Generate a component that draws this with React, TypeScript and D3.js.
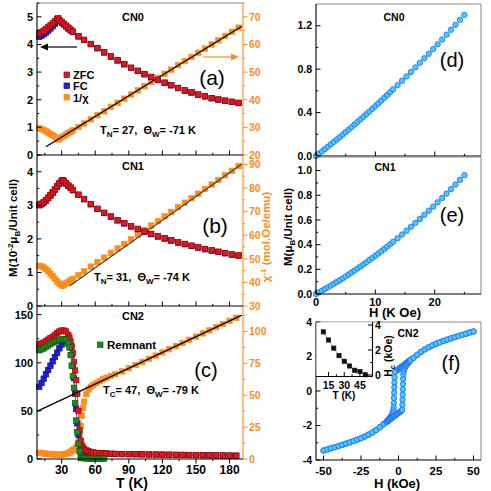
import React from "react"
import * as d3 from "d3"

// ---- CN0 : M(T) and 1/chi ----
const tA = [10,12,14,16,18,20,22,24,26,27,28,30,32,34,36,38,40,45,50,56,62,68,74,80,86,92,98,104,110,116,122,128,134,140,146,152,158,164,170,176,182,188]
const zfcA = [4.40,4.45,4.50,4.56,4.62,4.69,4.76,4.84,4.92,4.95,4.88,4.82,4.75,4.68,4.61,4.54,4.47,4.30,4.17,4.02,3.87,3.72,3.57,3.43,3.29,3.16,3.05,2.93,2.83,2.72,2.62,2.53,2.43,2.34,2.27,2.19,2.13,2.06,2.01,1.97,1.93,1.89]
const fcA = [4.28,4.32,4.37,4.43,4.50,4.58,4.66,4.75,4.85,4.90,4.85,4.79,4.72,4.65,4.58,4.51,4.45,4.29,4.16,4.01,3.86,3.71,3.56,3.42,3.28,3.15,3.04,2.92,2.82,2.71,2.61,2.52,2.42,2.33,2.26,2.18,2.12,2.05,2.00,1.96,1.92,1.88]
const invA = [29.7,29.4,29.0,28.6,28.1,27.6,27.1,26.6,25.9,25.6,25.9,26.4,26.9,27.4,27.9,28.4,28.9,30.1,31.4,32.9,34.4,35.8,37.4,38.9,40.4,41.9,43.4,44.9,46.4,47.9,49.4,50.9,52.5,54.0,55.5,57.0,58.5,60.0,61.5,63.1,64.6,66.1]
const fitA = [[16, 23.0], [191, 66.6]]

// ---- CN1 ----
const tB = [10,12,14,16,18,20,22,24,26,28,30,31,32,34,36,38,40,45,50,56,62,68,74,80,86,92,98,104,110,116,122,128,134,140,146,152,158,164,170,176,182,188]
const zfcB = [3.02,3.05,3.10,3.16,3.23,3.31,3.39,3.48,3.57,3.66,3.73,3.75,3.73,3.66,3.59,3.53,3.46,3.32,3.19,3.04,2.90,2.78,2.67,2.56,2.47,2.38,2.30,2.22,2.15,2.08,2.02,1.96,1.90,1.85,1.80,1.75,1.70,1.66,1.62,1.58,1.54,1.51]
const fcB = [3.00,3.03,3.08,3.14,3.21,3.29,3.37,3.46,3.55,3.64,3.71,3.74,3.72,3.65,3.58,3.52,3.45,3.31,3.18,3.03,2.89,2.77,2.66,2.55,2.46,2.37,2.29,2.21,2.14,2.07,2.01,1.95,1.89,1.84,1.79,1.74,1.69,1.65,1.61,1.57,1.53,1.50]
const invB = [47.0,46.8,46.3,45.6,44.7,43.7,42.6,41.5,40.4,39.5,38.8,38.6,38.9,39.6,40.2,40.9,41.5,43.1,44.7,46.7,48.6,50.5,52.5,54.4,56.3,58.3,60.2,62.2,64.1,66.0,68.0,69.9,71.9,73.8,75.7,77.6,79.6,81.5,83.4,85.4,87.3,89.3]
const fitB = [[37, 38.5], [191, 90.2]]

// ---- CN2 ----
const tC = [10,12,14,16,18,20,22,24,26,28,30,32,34,36,37,38,39,40,41,42,43,44,45,46,47,48,49,50,52,54,56,58,61,64,67,70,74,78,84,90,96,102,108,114,120,126,132,138,144,150,156,162,168,174,180,186]
const zfcC = [119,120,121,122.5,124,125.5,127,129,131,132.5,133.5,133.5,132.5,129,126,122,117,110,101,92,82,68,50,30,19,14,12,10.5,9,8,7.3,6.8,6.4,6.1,5.9,5.7,5.5,5.4,5.2,5.1,5.0,4.9,4.8,4.7,4.6,4.5,4.4,4.3,4.2,4.1,4.0,3.9,3.8,3.7,3.6,3.5]
const fcC = [75,79,83.5,88,92.5,97,101.5,106,110.5,115,119,122.5,124.5,124,121,116,108,97,84,68,52,37,25,16,12,10,9,8.5,7.5,7,6.5,6.1,5.8,5.6,5.5,5.4,5.3,5.2,5.1,5.0,4.9,4.8,4.7,4.6,4.5,4.4,4.3,4.2,4.1,4.0,3.9,3.8,3.7,3.6,3.5,3.4]
const invC = [4.8,4.6,4.4,4.2,4.0,3.8,3.6,3.5,3.4,3.4,3.5,3.7,4.0,4.6,5.0,5.5,6.2,7.0,7.5,7.8,8.5,10,13,18,26,34,40,45,51,54.5,56.5,58,59.5,61,62.5,63.8,65.2,66.6,68.7,71.2,73.7,76.1,78.6,81.1,83.6,86.1,88.5,91.0,93.5,96.0,98.5,100.9,103.4,105.9,108.4,110.8]
const tRem = [10,12,14,16,18,20,22,24,26,28,30,32,34,36,37,38,39,40,41,42,43,44,45,46,47,48,49,50,52,54,56,58,60,62,64,66,68]
const remC = [113,114,115,116.5,118,119.5,121,122,123,124,124.5,124.5,124,120,116,108,97,86,74,58,40,28,16,8,3,1.5,1,0.8,0.7,0.5,0.5,0.5,0.5,0.5,0.5,0.5,0.5]
const fitC = [[8, 37.3], [191, 112.9]]

// ---- M(H) ----
const hField = [0,0.5,1,1.5,2,2.5,3,3.5,4,4.5,5,5.5,6,6.5,7,7.5,8,8.5,9,9.5,10,10.5,11,11.5,12,12.5,13,13.75,14.5,15.25,16,16.75,17.5,18.25,19,19.75,20.5,21.25,22,22.75,23.5,24.25,25]
const mD = [0,0.021,0.042,0.064,0.086,0.108,0.13,0.152,0.174,0.197,0.22,0.243,0.266,0.29,0.314,0.338,0.362,0.386,0.41,0.435,0.46,0.485,0.51,0.536,0.562,0.588,0.614,0.653,0.693,0.733,0.774,0.816,0.858,0.9,0.942,0.985,1.029,1.073,1.118,1.163,1.208,1.254,1.3]
const mE = [0,0.013,0.027,0.040,0.054,0.068,0.083,0.097,0.112,0.127,0.143,0.158,0.174,0.190,0.207,0.223,0.24,0.257,0.275,0.292,0.31,0.328,0.347,0.365,0.384,0.403,0.423,0.452,0.482,0.513,0.544,0.576,0.608,0.641,0.675,0.708,0.743,0.778,0.814,0.85,0.887,0.925,0.963]

// ---- CN2 hysteresis (kOe) ----
const loopDownH = [50,47.5,45,42.5,40,37.5,35,32.5,30,27.5,25,22.5,20,17.5,15,12.5,10,8,7.5,7,6.5,6,5.5,5,4.5,4,3.5,3,2.5,2,1.5,1,0.5,0,-0.5,-1,-1.5,-2,-2.5,-2.6,-2.7,-2.8,-2.9,-3,-3.1,-3.2,-3.4,-3.8,-4.3,-5,-5.5,-6,-6.5,-7,-7.5,-8,-10,-12.5,-15,-17.5,-20,-22.5,-25,-27.5,-30,-32.5,-35,-37.5,-40,-42.5,-45,-47.5,-50]
const loopDownM = [3.45,3.39,3.32,3.26,3.19,3.12,3.05,2.98,2.9,2.82,2.74,2.64,2.53,2.41,2.27,2.1,1.92,1.8,1.77,1.73,1.7,1.67,1.63,1.6,1.57,1.53,1.5,1.47,1.43,1.4,1.37,1.33,1.3,1.27,1.23,1.2,1.17,1.13,1.1,0.8,0.5,0.2,-0.1,-0.4,-0.7,-0.95,-1.12,-1.25,-1.36,-1.46,-1.52,-1.58,-1.63,-1.68,-1.74,-1.8,-1.92,-2.1,-2.27,-2.41,-2.53,-2.64,-2.74,-2.82,-2.9,-2.98,-3.05,-3.12,-3.19,-3.26,-3.32,-3.39,-3.45]
const loopUpH = [-50,-47.5,-45,-42.5,-40,-37.5,-35,-32.5,-30,-27.5,-25,-22.5,-20,-17.5,-15,-12.5,-10,-8,-7.5,-7,-6.5,-6,-5.5,-5,-4.5,-4,-3.5,-3,-2.5,-2,-1.5,-1,-0.5,0,0.5,1,1.5,2,2.5,2.6,2.7,2.8,2.9,3,3.1,3.2,3.4,3.8,4.3,5,5.5,6,6.5,7,7.5,8,10,12.5,15,17.5,20,22.5,25,27.5,30,32.5,35,37.5,40,42.5,45,47.5,50]
const loopUpM = [-3.45,-3.39,-3.32,-3.26,-3.19,-3.12,-3.05,-2.98,-2.9,-2.82,-2.74,-2.64,-2.53,-2.41,-2.27,-2.1,-1.92,-1.8,-1.77,-1.73,-1.7,-1.67,-1.63,-1.6,-1.57,-1.53,-1.5,-1.47,-1.43,-1.4,-1.37,-1.33,-1.3,-1.27,-1.23,-1.2,-1.17,-1.13,-1.1,-0.8,-0.5,-0.2,0.1,0.4,0.7,0.95,1.12,1.25,1.36,1.46,1.52,1.58,1.63,1.68,1.74,1.8,1.92,2.1,2.27,2.41,2.53,2.64,2.74,2.82,2.9,2.98,3.05,3.12,3.19,3.26,3.32,3.39,3.45]
const tInset = [10,15,20,25,30,35,40,45,50]
const hcInset = [3.45,2.8,2.15,1.55,1.1,0.72,0.38,0.28,0.02]

// ---- ticks ----
const tempTicks = [30,60,90,120,150,180]
const tempMinor = [15,45,75,105,135,165]
const ticksAL = [0,1,2,3,4,5]
const ticksAR = [20,30,40,50,60,70]
const ticksBL = [0,1,2,3,4]
const ticksBR = [30,40,50,60,70,80,90]
const ticksCL = [0,50,100,150]
const ticksCR = [0,25,50,75,100]
const ticksD = [0,0.4,0.8,1.2]
const ticksE = [0,0.2,0.4,0.6,0.8,1.0]
const ticksH = [0,10,20]
const ticksFx = [-50,-25,0,25,50]
const ticksFy = [-4,-2,0,2,4]
const ticksIx = [15,30,45]
const ticksIy = [0,2,4]

const FONT = "Arial, 'Liberation Sans', Helvetica, sans-serif"
const ORANGE = "#ff8c1a"
const RED = "#e8141c"
const DARKRED = "#8a0a0a"
const BLUE = "#2020e0"
const GREEN = "#208a20"
const CYAN = "#45cdff"
const CYANEDGE = "#1f63f0"

const xT = d3.scaleLinear().domain([8, 192]).range([37, 243])
const yAL = d3.scaleLinear().domain([0, 5.5]).range([155, 3])
const yAR = d3.scaleLinear().domain([20, 75]).range([155, 3])
const yBL = d3.scaleLinear().domain([0, 4.5]).range([306, 155])
const yBR = d3.scaleLinear().domain([30, 94]).range([306, 155])
const yCL = d3.scaleLinear().domain([0, 159]).range([459, 306])
const yCR = d3.scaleLinear().domain([0, 120]).range([459, 306])

const xH = d3.scaleLinear().domain([0, 27.8]).range([316, 481])
const yD = d3.scaleLinear().domain([0, 1.4]).range([156, 4])
const yE = d3.scaleLinear().domain([0, 1.11]).range([294, 157])
const xF = d3.scaleLinear().domain([-55, 55]).range([316, 481])
const yF = d3.scaleLinear().domain([-4, 4]).range([460, 322])
const xI = d3.scaleLinear().domain([3, 57]).range([316, 372.5])
const yI = d3.scaleLinear().domain([-0.12, 4.24]).range([376.5, 322])

const mids = (arr: number[]) => arr.slice(1).map((v, i) => (v + arr[i]) / 2)

const Squares = ({ xs, ys, sx, sy, fill, stroke, size = 5.4 }: any) => (
  <g>
    {xs.map((v: number, i: number) => (
      <rect key={i} x={sx(v) - size / 2} y={sy(ys[i]) - size / 2} width={size} height={size}
        fill={fill} stroke={stroke} strokeWidth={0.7} />
    ))}
  </g>
)

const Circles = ({ xs, ys, sx, sy, r = 2.7 }: any) => (
  <g>
    {xs.map((v: number, i: number) => (
      <circle key={i} cx={sx(v)} cy={sy(ys[i])} r={r} fill={CYAN} stroke={CYANEDGE} strokeWidth={0.8} />
    ))}
  </g>
)

const Trace = ({ xs, ys, sx, sy, color, width = 0.8 }: any) => {
  const line = d3.line<number>().x((v) => sx(v)).y((_, i) => sy(ys[i]))
  return <path d={line(xs) || ""} fill="none" stroke={color} strokeWidth={width} />
}

const Fit = ({ pts, sx, sy, color = "#000" }: any) => {
  const line = d3.line<number[]>().x((p) => sx(p[0])).y((p) => sy(p[1]))
  return <path d={line(pts) || ""} fill="none" stroke={color} strokeWidth={1.3} />
}

const YAxis = ({ s, x, major, minor = [], fmt = String, dir = 1, color = "#000", labels = true, right = false, size = 10.5, gap }: any) => {
  const [a, b] = s.range()
  const g = gap ?? (right ? 6 : 4)
  return (
    <g>
      <line x1={x} x2={x} y1={a} y2={b} stroke={color} strokeWidth={1.1} />
      {minor.map((v: number) => <line key={"m" + v} x1={x} x2={x + dir * 2.2} y1={s(v)} y2={s(v)} stroke={color} />)}
      {major.map((v: number) => <line key={"M" + v} x1={x} x2={x + dir * 4.5} y1={s(v)} y2={s(v)} stroke={color} />)}
      {labels && major.map((v: number) => (
        <text key={"t" + v} x={right ? x + g : x - g} y={s(v)} dy="0.36em" textAnchor={right ? "start" : "end"}
          fill={color} fontSize={size} fontWeight="bold">{fmt(v)}</text>
      ))}
    </g>
  )
}

const XAxis = ({ s, y, major, minor = [], fmt = String, dir = 1, color = "#000", labels = true, size = 11.5, off }: any) => {
  const [a, b] = s.range()
  const o = off ?? size + 3
  return (
    <g>
      <line x1={a} x2={b} y1={y} y2={y} stroke={color} strokeWidth={1.1} />
      {minor.map((v: number) => <line key={"m" + v} x1={s(v)} x2={s(v)} y1={y} y2={y + dir * 2.2} stroke={color} />)}
      {major.map((v: number) => <line key={"M" + v} x1={s(v)} x2={s(v)} y1={y} y2={y + dir * 4.5} stroke={color} />)}
      {labels && major.map((v: number) => (
        <text key={"t" + v} x={s(v)} y={y + o} textAnchor="middle" fill={color} fontSize={size} fontWeight="bold">{fmt(v)}</text>
      ))}
    </g>
  )
}

const Frame = ({ sx, sy }: any) => {
  const [x0, x1] = sx.range()
  const [y0, y1] = sy.range()
  return <g stroke="#888" strokeWidth={1}>
    <line x1={x0} x2={x1} y1={y1} y2={y1} />
    <line x1={x1} x2={x1} y1={y0} y2={y1} />
  </g>
}

const Sub = ({ t }: { t: string }) => <tspan fontSize={8} dy={3}>{t}</tspan>

export default function App() {
  const f1 = (v: number) => v.toFixed(1)
  return (
    <svg width={491} height={491} style={{ position: "absolute", left: 0, top: 0, background: "#fff" }} fontFamily={FONT}>
      {/* ---------- left column ---------- */}
      <line x1={37} x2={243} y1={3} y2={3} stroke="#888" />
      {/* (a) */}
      <Squares xs={tA} ys={invA} sx={xT} sy={yAR} fill={ORANGE} stroke={ORANGE} />
      <Fit pts={fitA} sx={xT} sy={yAR} />
      <Squares xs={tA} ys={fcA} sx={xT} sy={yAL} fill={BLUE} stroke="#10107a" />
      <Squares xs={tA} ys={zfcA} sx={xT} sy={yAL} fill={RED} stroke={DARKRED} />
      {/* (b) */}
      <Squares xs={tB} ys={invB} sx={xT} sy={yBR} fill={ORANGE} stroke={ORANGE} />
      <Fit pts={fitB} sx={xT} sy={yBR} color="#444" />
      <Squares xs={tB} ys={fcB} sx={xT} sy={yBL} fill={BLUE} stroke="#10107a" />
      <Squares xs={tB} ys={zfcB} sx={xT} sy={yBL} fill={RED} stroke={DARKRED} />
      {/* (c) */}
      <Trace xs={tC} ys={invC} sx={xT} sy={yCR} color={ORANGE} width={0.7} />
      <Squares xs={tC} ys={invC} sx={xT} sy={yCR} fill={ORANGE} stroke={ORANGE} />
      <Trace xs={tC} ys={fcC} sx={xT} sy={yCL} color={BLUE} width={0.8} />
      <Squares xs={tC} ys={fcC} sx={xT} sy={yCL} fill={BLUE} stroke="#10107a" />
      <Trace xs={tC} ys={zfcC} sx={xT} sy={yCL} color={RED} width={0.8} />
      <Squares xs={tC} ys={zfcC} sx={xT} sy={yCL} fill={RED} stroke={DARKRED} />
      <Squares xs={tRem} ys={remC} sx={xT} sy={yCL} fill={GREEN} stroke="#0d5a0d" />
      <Fit pts={fitC} sx={xT} sy={yCR} />

      {/* axes, left column */}
      <YAxis s={yAL} x={37} major={ticksAL} minor={mids(ticksAL).concat([5.5])} size={11} />
      <YAxis s={yBL} x={37} major={ticksBL} minor={mids(ticksBL).concat([4.5])} size={11} />
      <YAxis s={yCL} x={37} major={ticksCL} minor={mids(ticksCL)} size={11} />
      <YAxis s={yAR} x={243} major={ticksAR} minor={mids(ticksAR).concat([75])} color={ORANGE} right />
      <YAxis s={yBR} x={243} major={ticksBR} minor={mids(ticksBR)} color={ORANGE} right />
      <YAxis s={yCR} x={243} major={ticksCR} minor={mids(ticksCR).concat([112.5])} color={ORANGE} right />
      <XAxis s={xT} y={155} major={tempTicks} minor={tempMinor} labels={false} dir={-1} />
      <XAxis s={xT} y={306} major={tempTicks} minor={tempMinor} labels={false} dir={-1} />
      <XAxis s={xT} y={459} major={tempTicks} minor={tempMinor} size={12} />

      {/* texts (a) */}
      <text x={133} y={21} textAnchor="middle" fontSize={11} fontWeight="bold">CN0</text>
      <text x={212} y={85} textAnchor="middle" fontSize={21}>(a)</text>
      <line x1={46} x2={77} y1={47} y2={47} stroke="#000" strokeWidth={1.2} />
      <path d="M40,47 L48,43.5 L48,50.5 Z" fill="#000" />
      <line x1={203} x2={232} y1={57} y2={57} stroke={ORANGE} strokeWidth={1.2} />
      <path d="M239,57 L231,53.5 L231,60.5 Z" fill={ORANGE} />
      <rect x={64} y={72} width={5.5} height={5.5} fill={RED} stroke={DARKRED} strokeWidth={0.7} />
      <rect x={64} y={83} width={5.5} height={5.5} fill={BLUE} stroke="#10107a" strokeWidth={0.7} />
      <rect x={64} y={94.5} width={5.5} height={5.5} fill={ORANGE} stroke={ORANGE} strokeWidth={0.7} />
      <text x={73} y={79} fontSize={11} fontWeight="bold">ZFC</text>
      <text x={73} y={90} fontSize={11} fontWeight="bold">FC</text>
      <text x={73} y={101.5} fontSize={11} fontWeight="bold">1/χ</text>
      <text x={100} y={134} fontSize={11} fontWeight="bold" xmlSpace="preserve">T<Sub t="N" /><tspan dy={-3}>= 27,  Θ</tspan><Sub t="W" /><tspan dy={-3}>= -71 K</tspan></text>
      {/* texts (b) */}
      <text x={133} y={170} textAnchor="middle" fontSize={11} fontWeight="bold">CN1</text>
      <text x={215} y={233} textAnchor="middle" fontSize={21}>(b)</text>
      <text x={94} y={281} fontSize={11} fontWeight="bold" xmlSpace="preserve">T<Sub t="N" /><tspan dy={-3}>= 31,  Θ</tspan><Sub t="W" /><tspan dy={-3}>= -74 K</tspan></text>
      {/* texts (c) */}
      <text x={133} y={320} textAnchor="middle" fontSize={11} fontWeight="bold">CN2</text>
      <rect x={97.5} y={342} width={5.5} height={5.5} fill={GREEN} stroke="#0d5a0d" strokeWidth={0.7} />
      <text x={107} y={349} fontSize={11.5} fontWeight="bold">Remnant</text>
      <text x={206} y={377} textAnchor="middle" fontSize={20}>(c)</text>
      <text x={103} y={394} fontSize={11} fontWeight="bold" xmlSpace="preserve">T<Sub t="C" /><tspan dy={-3}>= 47,  Θ</tspan><Sub t="W" /><tspan dy={-3}>= -79 K</tspan></text>
      <text x={132} y={488} textAnchor="middle" fontSize={14} fontWeight="bold">T (K)</text>
      <text transform="translate(17,228) rotate(-90)" textAnchor="middle" fontSize={11.5} fontWeight="bold">
        M(10<tspan dy={-4} fontSize={8}>-2</tspan><tspan dy={4}>μ</tspan><tspan dy={3} fontSize={8}>B</tspan><tspan dy={-3}>/Unit cell)</tspan>
      </text>
      <text transform="translate(270,237) rotate(-90)" textAnchor="middle" fontSize={11.5} fontWeight="bold" fill={ORANGE}>
        χ<tspan dy={-4} fontSize={8}>-1</tspan><tspan dy={4}> (mol.Oe/emu)</tspan>
      </text>

      {/* ---------- right column ---------- */}
      {/* (d) */}
      <Circles xs={hField} ys={mD} sx={xH} sy={yD} />
      <Frame sx={xH} sy={yD} />
      <YAxis s={yD} x={316} major={ticksD} minor={mids(ticksD)} fmt={f1} />
      <XAxis s={xH} y={156} major={ticksH} minor={[5, 15, 25]} labels={false} dir={-1} />
      <text x={394} y={21} textAnchor="middle" fontSize={10.5} fontWeight="bold">CN0</text>
      <text x={452} y={67} textAnchor="middle" fontSize={20}>(d)</text>
      {/* (e) */}
      <Circles xs={hField} ys={mE} sx={xH} sy={yE} />
      <Frame sx={xH} sy={yE} />
      <YAxis s={yE} x={316} major={ticksE} minor={mids(ticksE)} fmt={f1} />
      <XAxis s={xH} y={294} major={ticksH} minor={[5, 15, 25]} dir={-1} size={11} off={11.5} />
      <text x={385} y={170.5} textAnchor="middle" fontSize={10.5} fontWeight="bold">CN1</text>
      <text x={452} y={222} textAnchor="middle" fontSize={20}>(e)</text>
      <text x={395} y={317} textAnchor="middle" fontSize={13} fontWeight="bold">H (K Oe)</text>
      <text transform="translate(292,227) rotate(-90)" textAnchor="middle" fontSize={11.5} fontWeight="bold">
        M(μ<tspan dy={3} fontSize={8}>B</tspan><tspan dy={-3}>/Unit cell)</tspan>
      </text>
      {/* (f) */}
      <Trace xs={loopDownH} ys={loopDownM} sx={xF} sy={yF} color="#5a5ae6" width={0.7} />
      <Trace xs={loopUpH} ys={loopUpM} sx={xF} sy={yF} color="#5a5ae6" width={0.7} />
      <Circles xs={loopDownH} ys={loopDownM} sx={xF} sy={yF} />
      <Circles xs={loopUpH} ys={loopUpM} sx={xF} sy={yF} />
      <Frame sx={xF} sy={yF} />
      <YAxis s={yF} x={316} major={ticksFy} minor={mids(ticksFy)} />
      <XAxis s={xF} y={460} major={ticksFx} minor={mids(ticksFx)} dir={-1} size={11.5} />
      <text x={408} y={337} textAnchor="middle" fontSize={10.5} fontWeight="bold">CN2</text>
      <text x={451} y={370} textAnchor="middle" fontSize={20}>(f)</text>
      <text x={397} y={488} textAnchor="middle" fontSize={13} fontWeight="bold">H (kOe)</text>
      {/* inset */}
      <rect x={316.5} y={322.5} width={56} height={54} fill="#fff" />
      <Trace xs={tInset} ys={hcInset} sx={xI} sy={yI} color="#888" width={0.8} />
      <Squares xs={tInset} ys={hcInset} sx={xI} sy={yI} fill="#111" stroke="#111" size={4.2} />
      <YAxis s={yI} x={372.5} major={ticksIy} minor={mids(ticksIy)} dir={-1} right size={10.5} gap={2.5} />
      <XAxis s={xI} y={376.5} major={ticksIx} minor={[22.5, 37.5, 52.5]} dir={-1} size={10.5} off={12} />
      <text x={344} y={399} textAnchor="middle" fontSize={10} fontWeight="bold">T (K)</text>
      <text transform="translate(392,356) rotate(-90)" textAnchor="middle" fontSize={10.5} fontWeight="bold">
        H<tspan dy={2.5} fontSize={7.5}>c</tspan><tspan dy={-2.5}> (kOe)</tspan>
      </text>
    </svg>
  )
}
